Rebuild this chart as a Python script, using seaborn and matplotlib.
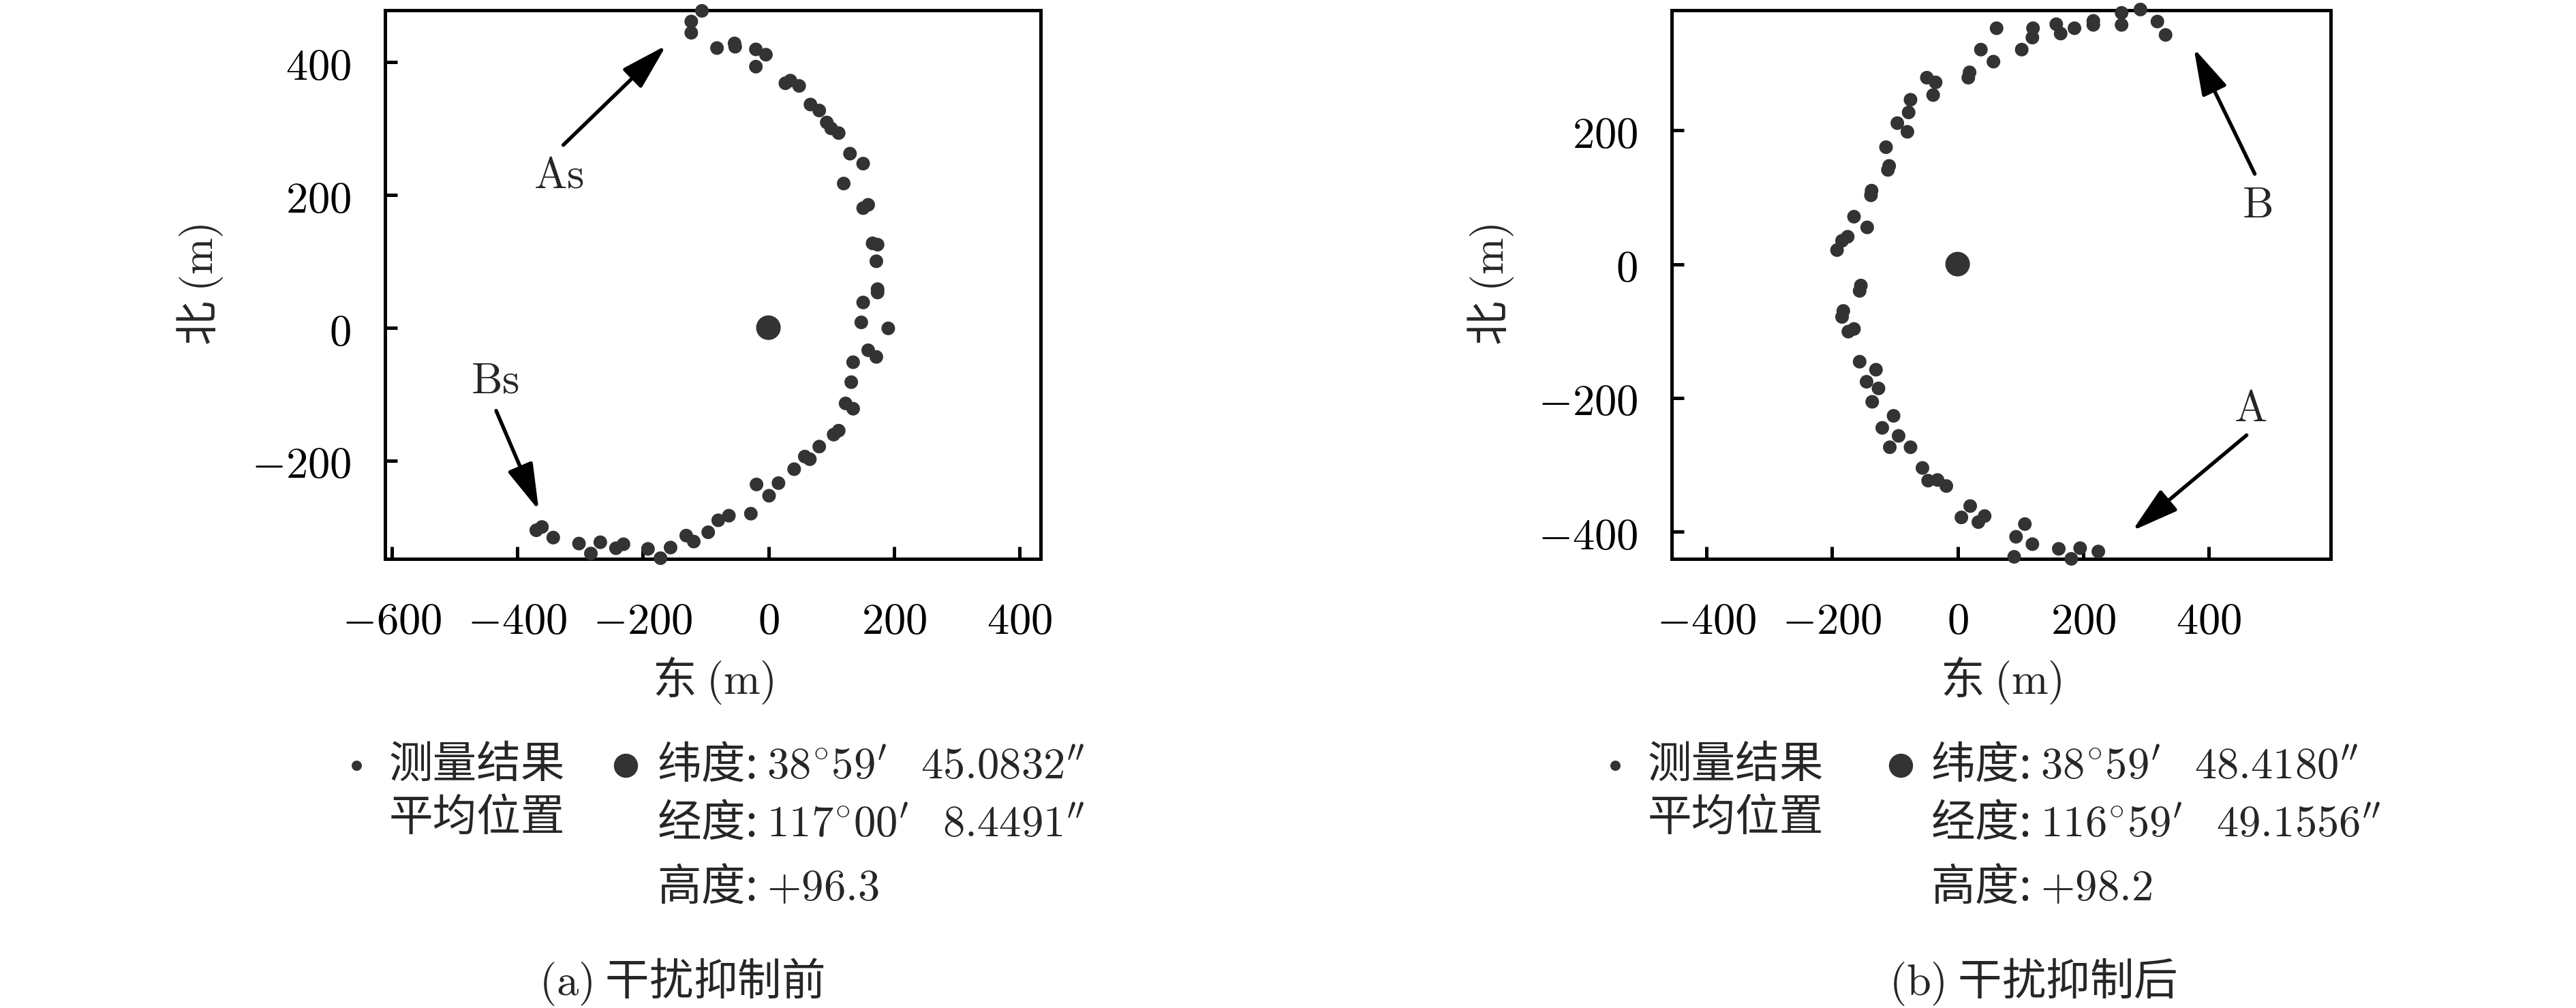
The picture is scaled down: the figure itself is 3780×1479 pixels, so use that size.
import numpy as np
import pandas as pd
import matplotlib.pyplot as plt
from matplotlib.lines import Line2D
from matplotlib.ticker import FuncFormatter
import seaborn as sns

# (a) before interference suppression: east / north offsets in metres
east_a = [-106, -123, -123, -82, -54, -53, -20, -4, -20, 27, 35, 49, 67, 81, 93,
          100, 112, 130, 151, 120, 151, 159, 166, 174, 172, 174, 174, 151, 148, 191,
          159, 172, 135, 132, 123, 135, 104, 112, 81, 58, 66, 41, -19, 16, 1,
          -28, -63, -80, -96, -131, -119, -156, -172, -192, -231, -243, -268, -283,
          -302, -343, -361, -370]
north_a = [477, 461, 444, 421, 428, 423, 419, 411, 393, 368, 372, 364, 336, 327, 309,
           300, 293, 262, 247, 217, 180, 185, 127, 125, 100, 58, 53, 38, 8, -1,
           -34, -44, -52, -82, -114, -122, -161, -155, -179, -194, -198, -213, -236, -234, -253,
           -280, -283, -290, -308, -313, -322, -331, -347, -333, -326, -332, -323, -340,
           -325, -316, -300, -305]

# (b) after interference suppression
east_b = [291, 261, 261, 318, 331, 216, 216, 186, 157, 164, 120, 119, 102, 62, 37,
          57, 19, 17, -49, -35, -39, -75, -78, -96, -80, -114, -109, -111, -137, -138,
          -165, -144, -175, -184, -192, -154, -156, -182, -184, -165, -174, -156, -130,
          -145, -126, -136, -102, -120, -94, -108, -75, -56, -47, -32, -18, 20, 6, 33,
          43, 107, 93, 119, 90, 161, 181, 195, 224]
north_b = [381, 376, 358, 363, 343, 364, 358, 353, 359, 345, 353, 339, 321, 353, 321,
           303, 287, 279, 279, 272, 253, 246, 227, 211, 198, 175, 147, 141, 110, 103,
           71, 55, 41, 35, 21, -32, -40, -70, -79, -97, -101, -146, -158,
           -176, -186, -206, -227, -245, -257, -274, -274, -305, -324, -323, -332, -362, -379, -386,
           -377, -389, -408, -419, -438, -426, -441, -425, -430]

mean_east = [0]
mean_north = [0]

xlim_a = (-611, 434)
ylim_a = (-348, 478)
xlim_b = (-455, 594)
ylim_b = (-441, 380)

legend_a = [r'纬度: $38^{\circ}59^{\prime}\;\;\;45.0832^{\prime\prime}$',
            r'经度: $117^{\circ}00^{\prime}\;\;\;8.4491^{\prime\prime}$',
            r'高度: $+96.3$']
legend_b = [r'纬度: $38^{\circ}59^{\prime}\;\;\;48.4180^{\prime\prime}$',
            r'经度: $116^{\circ}59^{\prime}\;\;\;49.1556^{\prime\prime}$',
            r'高度: $+98.2$']

sns.set_style('ticks')
plt.rcParams['font.family'] = ['Noto Sans CJK SC', 'DejaVu Sans']
plt.rcParams['mathtext.fontset'] = 'cm'
plt.rcParams['axes.linewidth'] = 1.2

FS = 15.5
DOT = '#333333'

df_a = pd.DataFrame({'east': east_a, 'north': north_a})
df_b = pd.DataFrame({'east': east_b, 'north': north_b})
df_m = pd.DataFrame({'east': mean_east, 'north': mean_north})

fig = plt.figure(figsize=(12.6, 4.93), dpi=300)
ax_a = fig.add_axes([0.1495, 0.4456, 0.2545, 0.5443])
ax_b = fig.add_axes([0.649, 0.4456, 0.2558, 0.5443])

fmt = FuncFormatter(lambda v, p: f'${v:.0f}$')

for ax, df, xl, yl, xt, yt, ylab_x in [
        (ax_a, df_a, xlim_a, ylim_a, [-600, -400, -200, 0, 200, 400], [-200, 0, 200, 400], -0.282),
        (ax_b, df_b, xlim_b, ylim_b, [-400, -200, 0, 200, 400], [-400, -200, 0, 200], -0.275)]:
    sns.scatterplot(data=df, x='east', y='north', ax=ax, s=23, color=DOT,
                    edgecolor='none', linewidth=0, clip_on=False, zorder=3)
    sns.scatterplot(data=df_m, x='east', y='north', ax=ax, s=75, color=DOT,
                    edgecolor='none', linewidth=0, zorder=3)
    ax.set_xlim(xl)
    ax.set_ylim(yl)
    ax.set_xticks(xt)
    ax.set_yticks(yt)
    ax.xaxis.set_major_formatter(fmt)
    ax.yaxis.set_major_formatter(fmt)
    ax.tick_params(direction='in', length=4.3, width=1.2, labelsize=FS,
                   top=False, right=False, colors='black')
    ax.tick_params(axis='x', pad=14)
    ax.tick_params(axis='y', pad=12)
    for sp in ax.spines.values():
        sp.set_visible(True)
        sp.set_color('black')
        sp.set_linewidth(1.2)
    ax.set_xlabel(r'东 $(\mathrm{m})$', fontsize=FS)
    ax.set_ylabel(r'北 $(\mathrm{m})$', fontsize=FS)
    ax.xaxis.label.set_va('center')
    ax.yaxis.label.set_va('center')
    ax.xaxis.set_label_coords(0.5, -0.222)
    ax.yaxis.set_label_coords(ylab_x, 0.5)

arrow_kw = dict(arrowstyle='-|>,head_length=0.7,head_width=0.2', color='black',
                lw=1.3, mutation_scale=20, shrinkA=0, shrinkB=0)

# panel a labels
ax_a.annotate('', xy=(-163, 425), xytext=(-327, 275), arrowprops=arrow_kw)
ax_a.text(-334, 229, r'$\mathrm{As}$', fontsize=FS, ha='center', va='center')
ax_a.annotate('', xy=(-366, -275), xytext=(-434, -125), arrowprops=arrow_kw)
ax_a.text(-436, -79, r'$\mathrm{Bs}$', fontsize=FS, ha='center', va='center')

# panel b labels
ax_b.annotate('', xy=(376, 323), xytext=(473, 135), arrowprops=arrow_kw)
ax_b.text(477, 89, r'$\mathrm{B}$', fontsize=FS, ha='center', va='center')
ax_b.annotate('', xy=(278, -399), xytext=(460, -256), arrowprops=arrow_kw)
ax_b.text(466, -216, r'$\mathrm{A}$', fontsize=FS, ha='center', va='center')

# legend blocks under each panel
W, H = 3780.0, 1479.0
rows = [1123, 1208, 1302]
for dot_s, text_s, dot_l, text_l, lines, cap_x, cap in [
        (523, 571, 918, 964, legend_a, 1000, r'$(\mathrm{a})$ 干扰抑制前'),
        (2370, 2418, 2789, 2833, legend_b, 2983, r'$(\mathrm{b})$ 干扰抑制后')]:
    fig.add_artist(Line2D([dot_s / W], [1 - rows[0] / H], marker='o', ms=3.6,
                          color=DOT, mec='none', transform=fig.transFigure))
    fig.add_artist(Line2D([dot_l / W], [1 - rows[0] / H], marker='o', ms=8.5,
                          color=DOT, mec='none', transform=fig.transFigure))
    fig.text(text_s / W, 1 - rows[0] / H, '测量结果', fontsize=FS, va='center', ha='left')
    fig.text(text_s / W, 1 - 1202 / H, '平均位置', fontsize=FS, va='center', ha='left')
    for r, t in zip(rows, lines):
        fig.text(text_l / W, 1 - r / H, t, fontsize=FS, va='center', ha='left')
    fig.text(cap_x / W, 1 - 1441 / H, cap, fontsize=FS, va='center', ha='center')

fig.savefig('out.png', dpi=300, facecolor='white')
